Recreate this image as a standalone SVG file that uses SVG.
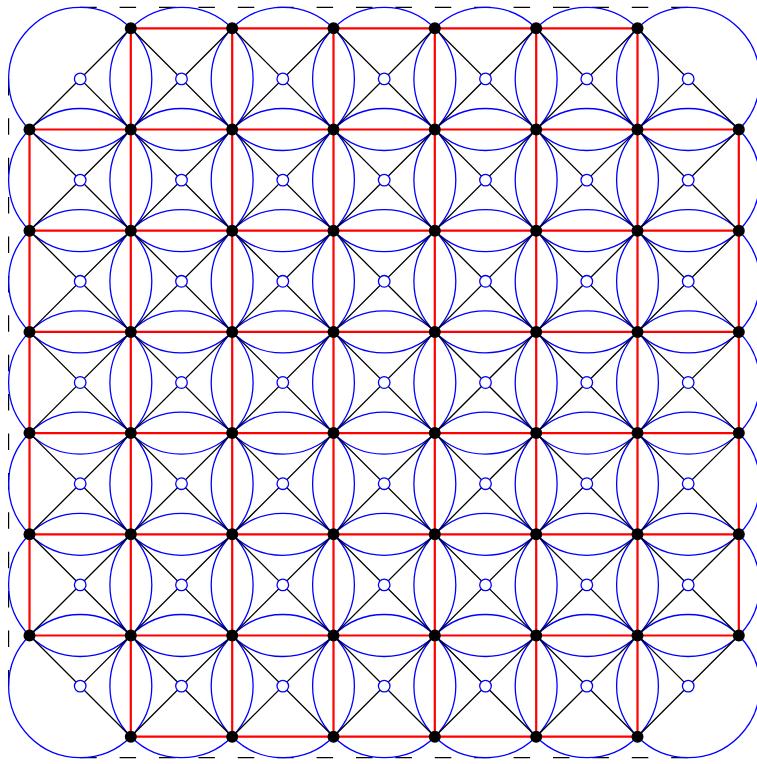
<svg xmlns="http://www.w3.org/2000/svg" width="757" height="764" viewBox="0 0 757 764">
<style>
.cc{fill:none;stroke:#0000ff;stroke-width:1.3}
.dg{fill:none;stroke:#000;stroke-width:1.3}
.rd{fill:none;stroke:#ff0000;stroke-width:2.2}
.bd{fill:none;stroke:#000;stroke-width:1.2;stroke-dasharray:16.5 22.9}
.b{fill:#000}
.w{fill:#fff;stroke:#0000ff;stroke-width:1.3}
</style>
<g id="frame">
<path class="bd" d="M80.2 7.3H688.2M80.2 757.7H688.2M8.6 78.9V686.1M759.8 78.9V686.1"/>
</g>
<g id="circles">
<circle class="cc" cx="80.2" cy="78.9" r="71.6"/><circle class="cc" cx="181.5" cy="78.9" r="71.6"/><circle class="cc" cx="282.8" cy="78.9" r="71.6"/><circle class="cc" cx="384.2" cy="78.9" r="71.6"/><circle class="cc" cx="485.5" cy="78.9" r="71.6"/><circle class="cc" cx="586.8" cy="78.9" r="71.6"/><circle class="cc" cx="688.2" cy="78.9" r="71.6"/>
<circle class="cc" cx="80.2" cy="180.1" r="71.6"/><circle class="cc" cx="181.5" cy="180.1" r="71.6"/><circle class="cc" cx="282.8" cy="180.1" r="71.6"/><circle class="cc" cx="384.2" cy="180.1" r="71.6"/><circle class="cc" cx="485.5" cy="180.1" r="71.6"/><circle class="cc" cx="586.8" cy="180.1" r="71.6"/><circle class="cc" cx="688.2" cy="180.1" r="71.6"/>
<circle class="cc" cx="80.2" cy="281.3" r="71.6"/><circle class="cc" cx="181.5" cy="281.3" r="71.6"/><circle class="cc" cx="282.8" cy="281.3" r="71.6"/><circle class="cc" cx="384.2" cy="281.3" r="71.6"/><circle class="cc" cx="485.5" cy="281.3" r="71.6"/><circle class="cc" cx="586.8" cy="281.3" r="71.6"/><circle class="cc" cx="688.2" cy="281.3" r="71.6"/>
<circle class="cc" cx="80.2" cy="382.5" r="71.6"/><circle class="cc" cx="181.5" cy="382.5" r="71.6"/><circle class="cc" cx="282.8" cy="382.5" r="71.6"/><circle class="cc" cx="384.2" cy="382.5" r="71.6"/><circle class="cc" cx="485.5" cy="382.5" r="71.6"/><circle class="cc" cx="586.8" cy="382.5" r="71.6"/><circle class="cc" cx="688.2" cy="382.5" r="71.6"/>
<circle class="cc" cx="80.2" cy="483.7" r="71.6"/><circle class="cc" cx="181.5" cy="483.7" r="71.6"/><circle class="cc" cx="282.8" cy="483.7" r="71.6"/><circle class="cc" cx="384.2" cy="483.7" r="71.6"/><circle class="cc" cx="485.5" cy="483.7" r="71.6"/><circle class="cc" cx="586.8" cy="483.7" r="71.6"/><circle class="cc" cx="688.2" cy="483.7" r="71.6"/>
<circle class="cc" cx="80.2" cy="584.9" r="71.6"/><circle class="cc" cx="181.5" cy="584.9" r="71.6"/><circle class="cc" cx="282.8" cy="584.9" r="71.6"/><circle class="cc" cx="384.2" cy="584.9" r="71.6"/><circle class="cc" cx="485.5" cy="584.9" r="71.6"/><circle class="cc" cx="586.8" cy="584.9" r="71.6"/><circle class="cc" cx="688.2" cy="584.9" r="71.6"/>
<circle class="cc" cx="80.2" cy="686.1" r="71.6"/><circle class="cc" cx="181.5" cy="686.1" r="71.6"/><circle class="cc" cx="282.8" cy="686.1" r="71.6"/><circle class="cc" cx="384.2" cy="686.1" r="71.6"/><circle class="cc" cx="485.5" cy="686.1" r="71.6"/><circle class="cc" cx="586.8" cy="686.1" r="71.6"/><circle class="cc" cx="688.2" cy="686.1" r="71.6"/>
</g>
<g id="connectors">
<path class="dg" d="M29.5 635.5L130.8 736.7M29.5 534.3L232.2 736.7M29.5 433.1L333.5 736.7M29.5 331.9L434.8 736.7M29.5 230.7L536.2 736.7M29.5 129.5L637.5 736.7M80.2 78.9L688.2 686.1M130.8 28.3L738.8 635.5M232.2 28.3L738.8 534.3M333.5 28.3L738.8 433.1M434.8 28.3L738.8 331.9M536.2 28.3L738.8 230.7M637.5 28.3L738.8 129.5"/>
<path class="dg" d="M29.5 129.5L130.8 28.3M29.5 230.7L232.2 28.3M29.5 331.9L333.5 28.3M29.5 433.1L434.8 28.3M29.5 534.3L536.2 28.3M29.5 635.5L637.5 28.3M80.2 686.1L688.2 78.9M130.8 736.7L738.8 129.5M232.2 736.7L738.8 230.7M333.5 736.7L738.8 331.9M434.8 736.7L738.8 433.1M536.2 736.7L738.8 534.3M637.5 736.7L738.8 635.5"/>
<path class="rd" d="M130.8 28.3H637.5M29.5 129.5H738.8M29.5 230.7H738.8M29.5 331.9H738.8M29.5 433.1H738.8M29.5 534.3H738.8M29.5 635.5H738.8M130.8 736.7H637.5"/>
<path class="rd" d="M29.5 129.5V635.5M130.8 28.3V736.7M232.2 28.3V736.7M333.5 28.3V736.7M434.8 28.3V736.7M536.2 28.3V736.7M637.5 28.3V736.7M738.8 129.5V635.5"/>
</g>
<g id="w-0-0"><circle class="w" cx="80.2" cy="78.9" r="5.8"/></g><g id="w-1-0"><circle class="w" cx="181.5" cy="78.9" r="5.8"/></g><g id="w-2-0"><circle class="w" cx="282.8" cy="78.9" r="5.8"/></g><g id="w-3-0"><circle class="w" cx="384.2" cy="78.9" r="5.8"/></g><g id="w-4-0"><circle class="w" cx="485.5" cy="78.9" r="5.8"/></g><g id="w-5-0"><circle class="w" cx="586.8" cy="78.9" r="5.8"/></g><g id="w-6-0"><circle class="w" cx="688.2" cy="78.9" r="5.8"/></g>
<g id="w-0-1"><circle class="w" cx="80.2" cy="180.1" r="5.8"/></g><g id="w-1-1"><circle class="w" cx="181.5" cy="180.1" r="5.8"/></g><g id="w-2-1"><circle class="w" cx="282.8" cy="180.1" r="5.8"/></g><g id="w-3-1"><circle class="w" cx="384.2" cy="180.1" r="5.8"/></g><g id="w-4-1"><circle class="w" cx="485.5" cy="180.1" r="5.8"/></g><g id="w-5-1"><circle class="w" cx="586.8" cy="180.1" r="5.8"/></g><g id="w-6-1"><circle class="w" cx="688.2" cy="180.1" r="5.8"/></g>
<g id="w-0-2"><circle class="w" cx="80.2" cy="281.3" r="5.8"/></g><g id="w-1-2"><circle class="w" cx="181.5" cy="281.3" r="5.8"/></g><g id="w-2-2"><circle class="w" cx="282.8" cy="281.3" r="5.8"/></g><g id="w-3-2"><circle class="w" cx="384.2" cy="281.3" r="5.8"/></g><g id="w-4-2"><circle class="w" cx="485.5" cy="281.3" r="5.8"/></g><g id="w-5-2"><circle class="w" cx="586.8" cy="281.3" r="5.8"/></g><g id="w-6-2"><circle class="w" cx="688.2" cy="281.3" r="5.8"/></g>
<g id="w-0-3"><circle class="w" cx="80.2" cy="382.5" r="5.8"/></g><g id="w-1-3"><circle class="w" cx="181.5" cy="382.5" r="5.8"/></g><g id="w-2-3"><circle class="w" cx="282.8" cy="382.5" r="5.8"/></g><g id="w-3-3"><circle class="w" cx="384.2" cy="382.5" r="5.8"/></g><g id="w-4-3"><circle class="w" cx="485.5" cy="382.5" r="5.8"/></g><g id="w-5-3"><circle class="w" cx="586.8" cy="382.5" r="5.8"/></g><g id="w-6-3"><circle class="w" cx="688.2" cy="382.5" r="5.8"/></g>
<g id="w-0-4"><circle class="w" cx="80.2" cy="483.7" r="5.8"/></g><g id="w-1-4"><circle class="w" cx="181.5" cy="483.7" r="5.8"/></g><g id="w-2-4"><circle class="w" cx="282.8" cy="483.7" r="5.8"/></g><g id="w-3-4"><circle class="w" cx="384.2" cy="483.7" r="5.8"/></g><g id="w-4-4"><circle class="w" cx="485.5" cy="483.7" r="5.8"/></g><g id="w-5-4"><circle class="w" cx="586.8" cy="483.7" r="5.8"/></g><g id="w-6-4"><circle class="w" cx="688.2" cy="483.7" r="5.8"/></g>
<g id="w-0-5"><circle class="w" cx="80.2" cy="584.9" r="5.8"/></g><g id="w-1-5"><circle class="w" cx="181.5" cy="584.9" r="5.8"/></g><g id="w-2-5"><circle class="w" cx="282.8" cy="584.9" r="5.8"/></g><g id="w-3-5"><circle class="w" cx="384.2" cy="584.9" r="5.8"/></g><g id="w-4-5"><circle class="w" cx="485.5" cy="584.9" r="5.8"/></g><g id="w-5-5"><circle class="w" cx="586.8" cy="584.9" r="5.8"/></g><g id="w-6-5"><circle class="w" cx="688.2" cy="584.9" r="5.8"/></g>
<g id="w-0-6"><circle class="w" cx="80.2" cy="686.1" r="5.8"/></g><g id="w-1-6"><circle class="w" cx="181.5" cy="686.1" r="5.8"/></g><g id="w-2-6"><circle class="w" cx="282.8" cy="686.1" r="5.8"/></g><g id="w-3-6"><circle class="w" cx="384.2" cy="686.1" r="5.8"/></g><g id="w-4-6"><circle class="w" cx="485.5" cy="686.1" r="5.8"/></g><g id="w-5-6"><circle class="w" cx="586.8" cy="686.1" r="5.8"/></g><g id="w-6-6"><circle class="w" cx="688.2" cy="686.1" r="5.8"/></g>
<g id="n-1-0"><circle class="b" cx="130.8" cy="28.3" r="6"/></g><g id="n-2-0"><circle class="b" cx="232.2" cy="28.3" r="6"/></g><g id="n-3-0"><circle class="b" cx="333.5" cy="28.3" r="6"/></g><g id="n-4-0"><circle class="b" cx="434.8" cy="28.3" r="6"/></g><g id="n-5-0"><circle class="b" cx="536.2" cy="28.3" r="6"/></g><g id="n-6-0"><circle class="b" cx="637.5" cy="28.3" r="6"/></g>
<g id="n-0-1"><circle class="b" cx="29.5" cy="129.5" r="6"/></g><g id="n-1-1"><circle class="b" cx="130.8" cy="129.5" r="6"/></g><g id="n-2-1"><circle class="b" cx="232.2" cy="129.5" r="6"/></g><g id="n-3-1"><circle class="b" cx="333.5" cy="129.5" r="6"/></g><g id="n-4-1"><circle class="b" cx="434.8" cy="129.5" r="6"/></g><g id="n-5-1"><circle class="b" cx="536.2" cy="129.5" r="6"/></g><g id="n-6-1"><circle class="b" cx="637.5" cy="129.5" r="6"/></g><g id="n-7-1"><circle class="b" cx="738.8" cy="129.5" r="6"/></g>
<g id="n-0-2"><circle class="b" cx="29.5" cy="230.7" r="6"/></g><g id="n-1-2"><circle class="b" cx="130.8" cy="230.7" r="6"/></g><g id="n-2-2"><circle class="b" cx="232.2" cy="230.7" r="6"/></g><g id="n-3-2"><circle class="b" cx="333.5" cy="230.7" r="6"/></g><g id="n-4-2"><circle class="b" cx="434.8" cy="230.7" r="6"/></g><g id="n-5-2"><circle class="b" cx="536.2" cy="230.7" r="6"/></g><g id="n-6-2"><circle class="b" cx="637.5" cy="230.7" r="6"/></g><g id="n-7-2"><circle class="b" cx="738.8" cy="230.7" r="6"/></g>
<g id="n-0-3"><circle class="b" cx="29.5" cy="331.9" r="6"/></g><g id="n-1-3"><circle class="b" cx="130.8" cy="331.9" r="6"/></g><g id="n-2-3"><circle class="b" cx="232.2" cy="331.9" r="6"/></g><g id="n-3-3"><circle class="b" cx="333.5" cy="331.9" r="6"/></g><g id="n-4-3"><circle class="b" cx="434.8" cy="331.9" r="6"/></g><g id="n-5-3"><circle class="b" cx="536.2" cy="331.9" r="6"/></g><g id="n-6-3"><circle class="b" cx="637.5" cy="331.9" r="6"/></g><g id="n-7-3"><circle class="b" cx="738.8" cy="331.9" r="6"/></g>
<g id="n-0-4"><circle class="b" cx="29.5" cy="433.1" r="6"/></g><g id="n-1-4"><circle class="b" cx="130.8" cy="433.1" r="6"/></g><g id="n-2-4"><circle class="b" cx="232.2" cy="433.1" r="6"/></g><g id="n-3-4"><circle class="b" cx="333.5" cy="433.1" r="6"/></g><g id="n-4-4"><circle class="b" cx="434.8" cy="433.1" r="6"/></g><g id="n-5-4"><circle class="b" cx="536.2" cy="433.1" r="6"/></g><g id="n-6-4"><circle class="b" cx="637.5" cy="433.1" r="6"/></g><g id="n-7-4"><circle class="b" cx="738.8" cy="433.1" r="6"/></g>
<g id="n-0-5"><circle class="b" cx="29.5" cy="534.3" r="6"/></g><g id="n-1-5"><circle class="b" cx="130.8" cy="534.3" r="6"/></g><g id="n-2-5"><circle class="b" cx="232.2" cy="534.3" r="6"/></g><g id="n-3-5"><circle class="b" cx="333.5" cy="534.3" r="6"/></g><g id="n-4-5"><circle class="b" cx="434.8" cy="534.3" r="6"/></g><g id="n-5-5"><circle class="b" cx="536.2" cy="534.3" r="6"/></g><g id="n-6-5"><circle class="b" cx="637.5" cy="534.3" r="6"/></g><g id="n-7-5"><circle class="b" cx="738.8" cy="534.3" r="6"/></g>
<g id="n-0-6"><circle class="b" cx="29.5" cy="635.5" r="6"/></g><g id="n-1-6"><circle class="b" cx="130.8" cy="635.5" r="6"/></g><g id="n-2-6"><circle class="b" cx="232.2" cy="635.5" r="6"/></g><g id="n-3-6"><circle class="b" cx="333.5" cy="635.5" r="6"/></g><g id="n-4-6"><circle class="b" cx="434.8" cy="635.5" r="6"/></g><g id="n-5-6"><circle class="b" cx="536.2" cy="635.5" r="6"/></g><g id="n-6-6"><circle class="b" cx="637.5" cy="635.5" r="6"/></g><g id="n-7-6"><circle class="b" cx="738.8" cy="635.5" r="6"/></g>
<g id="n-1-7"><circle class="b" cx="130.8" cy="736.7" r="6"/></g><g id="n-2-7"><circle class="b" cx="232.2" cy="736.7" r="6"/></g><g id="n-3-7"><circle class="b" cx="333.5" cy="736.7" r="6"/></g><g id="n-4-7"><circle class="b" cx="434.8" cy="736.7" r="6"/></g><g id="n-5-7"><circle class="b" cx="536.2" cy="736.7" r="6"/></g><g id="n-6-7"><circle class="b" cx="637.5" cy="736.7" r="6"/></g>
</svg>
